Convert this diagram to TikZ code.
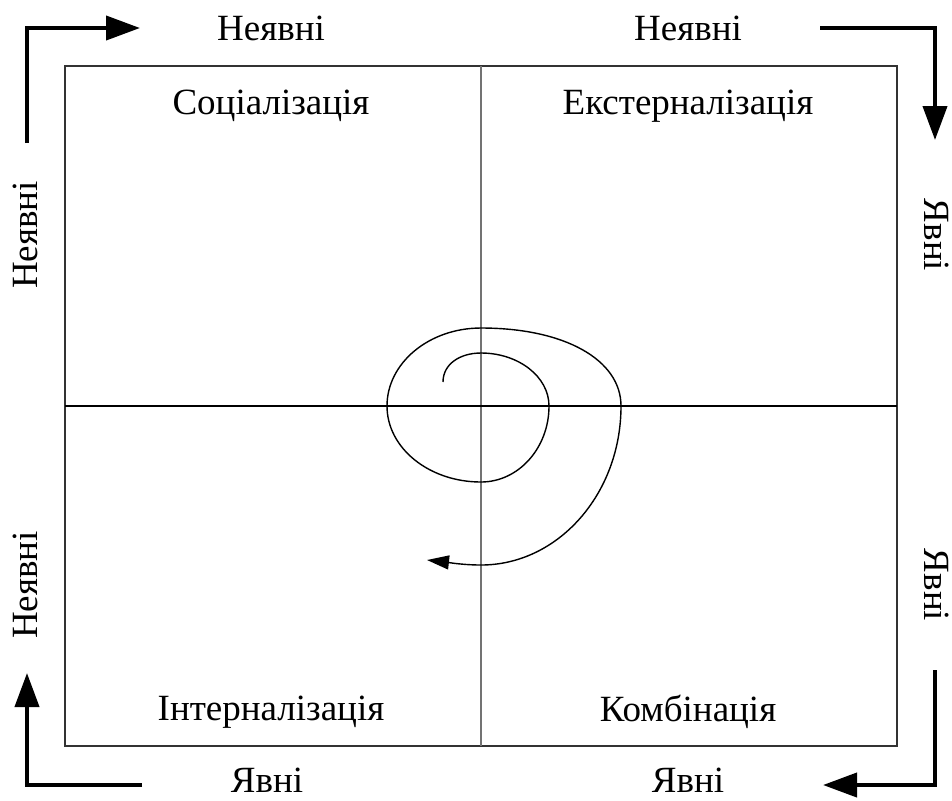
\documentclass[tikz,border=0pt]{standalone}
\usepackage{fontspec}
\setmainfont{Liberation Serif}
\usetikzlibrary{arrows.meta}

\begin{document}
\begin{tikzpicture}[x=0.5pt, y=-0.5pt,
  txt/.style={font=\fontsize{18.5}{22}\selectfont, inner sep=0pt},
  flow/.style={line width=2pt, line join=miter, -{Triangle[length=17pt, width=12pt]}},
  frame/.style={line width=0.75pt, draw=black!80},
  spiral/.style={line width=0.7pt, -{Triangle[length=11pt, width=7pt]}}]
  \useasboundingbox (0,0) rectangle (952,800);

  % matrix frame
  \coordinate (nw) at (65,66);
  \coordinate (se) at (897,746);
  \coordinate (top) at (481,66);
  \coordinate (bot) at (481,746);
  \coordinate (lft) at (65,406);
  \coordinate (rgt) at (897,406);
  \draw[frame] (nw) rectangle (se);
  \draw[line width=1pt, draw=black!55] (top) -- (bot);
  \draw[line width=0.75pt] (lft) -- (rgt);

  % quadrants
  \node[txt] (soc) at (271,106) {Соціалізація};
  \node[txt] (ext) at (688,106) {Екстерналізація};
  \node[txt] (int) at (271,712) {Інтерналізація};
  \node[txt] (comb) at (688,712) {Комбінація};

  % side labels
  \node[txt] (tl) at (271,28) {Неявні};
  \node[txt] (tr) at (688,28) {Неявні};
  \node[txt] (bl) at (267,780) {Явні};
  \node[txt] (br) at (688,780) {Явні};
  \node[txt, rotate=90] (lt) at (25,235) {Неявні};
  \node[txt, rotate=90] (lb) at (25,585) {Неявні};
  \node[txt, rotate=-90] (rt) at (937,235) {Явні};
  \node[txt, rotate=-90] (rb) at (937,585) {Явні};

  % corner arrows
  \coordinate (a1) at (27,143);
  \coordinate (a2) at (140,28);
  \coordinate (b1) at (820,28);
  \coordinate (b2) at (935,140);
  \coordinate (c1) at (935,670);
  \coordinate (c2) at (823,785);
  \coordinate (d1) at (142,785);
  \coordinate (d2) at (27,673);
  \draw[flow] (a1) |- (a2);
  \draw[flow] (b1) -| (b2);
  \draw[flow] (c1) |- (c2);
  \draw[flow] (d1) -| (d2);

  % spiral
  \coordinate (s0) at (443,382);
  \coordinate (s1) at (481,353);
  \coordinate (s2) at (549,406);
  \coordinate (s3) at (481,482);
  \coordinate (s4) at (387,406);
  \coordinate (s5) at (481,328);
  \coordinate (s6) at (621,406);
  \coordinate (s7) at (481,565);
  \coordinate (s8) at (427,560);
  \draw[spiral] (s0) .. controls (443,364) and (460,353) .. (s1)
    .. controls (518.5,353) and (549,376.7) .. (s2)
    .. controls (549,448) and (518.5,482) .. (s3)
    .. controls (429,482) and (387,448) .. (s4)
    .. controls (387,363) and (429,328) .. (s5)
    .. controls (565,328) and (621,360) .. (s6)
    .. controls (621,494) and (558,565) .. (s7)
    .. controls (462,565) and (445,562) .. (s8);
\end{tikzpicture}
\end{document}
